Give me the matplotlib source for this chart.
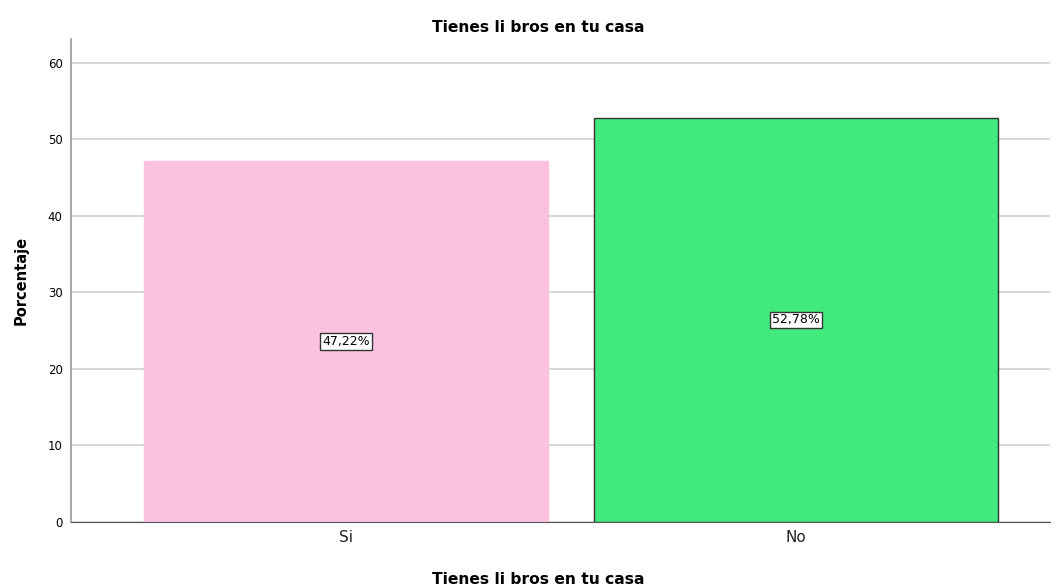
import matplotlib.pyplot as plt

categories = ['Si', 'No']
percentages = [47.22, 52.78]
labels = ['47,22%', '52,78%']
yticks = [0, 10, 20, 30, 40, 50, 60]

fig = plt.figure(figsize=(10.56, 5.87), dpi=100)
ax = fig.add_axes([71/1056, 65/587, 979/1056, 483/587])

colors = ['#fdc1e0', '#42ea7e']
edges = ['#fdc1e0', '#333333']
x = range(len(categories))
bars = ax.bar(x, percentages, width=0.898, color=colors, edgecolor=edges, linewidth=1, zorder=2)

for i, bar in enumerate(bars):
    h = bar.get_height()
    ax.text(bar.get_x() + bar.get_width() / 2, h / 2, labels[i], ha='center', va='center',
            fontsize=9,
            bbox=dict(boxstyle='square,pad=0.15', facecolor='white', edgecolor='#333333', linewidth=1),
            zorder=3)

# axis limits so bars sit where they do in the reference
ax.set_xlim(-0.611, 1.565)
ax.set_ylim(0, 63.1)
ax.set_yticks(yticks)
ax.set_xticks(list(x))
ax.set_xticklabels(categories, fontsize=11, color='#222222')
ax.tick_params(axis='y', length=0, labelsize=8.5, pad=6)
ax.tick_params(axis='x', length=0, pad=6)
ax.yaxis.grid(True, color='#d0d0d0', linewidth=1.2, zorder=0)
ax.set_axisbelow(True)

for side in ['top', 'right']:
    ax.spines[side].set_visible(False)
ax.spines['left'].set_color('#999999')
ax.spines['left'].set_linewidth(1.2)
ax.spines['bottom'].set_color('#555555')

# titles placed by figure position
fig.text(538/1056, 1 - 27/587, 'Tienes li bros en tu casa', ha='center', va='center',
         fontsize=11.2, fontweight='bold')
fig.text(538/1056, 1 - 579/587, 'Tienes li bros en tu casa', ha='center', va='center',
         fontsize=11.2, fontweight='bold')
ax.set_ylabel('Porcentaje', fontsize=10.5, fontweight='bold', labelpad=14)

fig.savefig('out.png', dpi=100)
